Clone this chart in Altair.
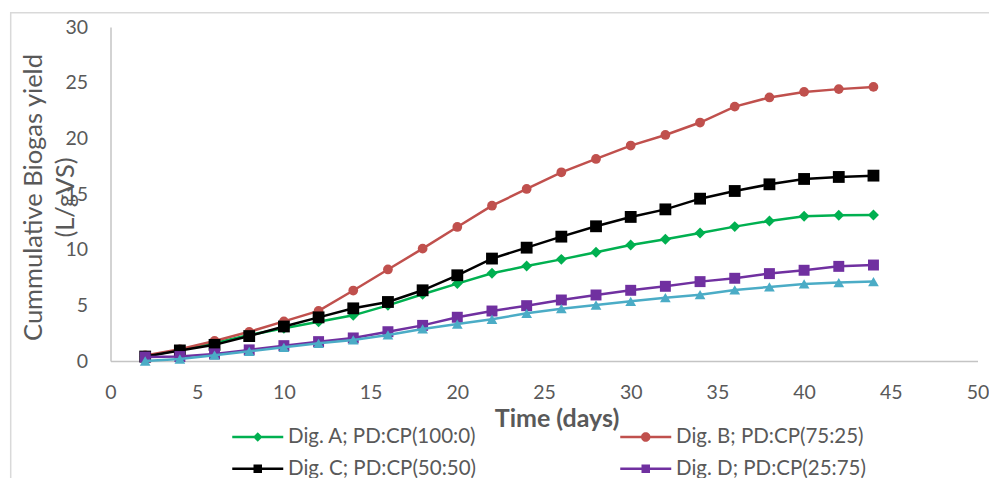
import altair as alt
import pandas as pd

days = [2, 4, 6, 8, 10, 12, 14, 16, 18, 20, 22, 24, 26, 28, 30, 32, 34, 36, 38, 40, 42, 44]

series_names = [
    "Dig. A; PD:CP(100:0)",
    "Dig. B; PD:CP(75:25)",
    "Dig. C; PD:CP(50:50)",
    "Dig. D; PD:CP(25:75)",
    "Dig. E; PD:CP(0:100)",
]

dig_a = [0.40, 1.00, 1.62, 2.33, 2.95, 3.52, 4.10, 5.00, 6.00, 6.95, 7.88, 8.53,
         9.13, 9.76, 10.42, 10.93, 11.50, 12.07, 12.58, 13.00, 13.09, 13.12]
dig_b = [0.50, 1.05, 1.80, 2.62, 3.56, 4.50, 6.33, 8.22, 10.09, 12.04, 13.95, 15.45,
         16.95, 18.15, 19.35, 20.30, 21.42, 22.85, 23.67, 24.17, 24.42, 24.62]
dig_c = [0.40, 0.95, 1.45, 2.24, 3.10, 3.92, 4.73, 5.30, 6.35, 7.70, 9.20, 10.18,
         11.17, 12.10, 12.94, 13.62, 14.58, 15.27, 15.87, 16.35, 16.53, 16.65]
dig_d = [0.35, 0.40, 0.64, 1.00, 1.38, 1.74, 2.07, 2.63, 3.20, 3.93, 4.49, 4.97,
         5.48, 5.93, 6.35, 6.71, 7.13, 7.43, 7.85, 8.15, 8.50, 8.62]
dig_e = [0.00, 0.18, 0.52, 0.87, 1.23, 1.59, 1.89, 2.34, 2.88, 3.32, 3.75, 4.28,
         4.70, 5.03, 5.36, 5.69, 5.96, 6.38, 6.65, 6.92, 7.04, 7.13]

colors = ["#00B050", "#C0504D", "#000000", "#7030A0", "#4BACC6"]
shapes = ["diamond", "circle", "square", "square", "triangle-up"]
sizes = [120, 95, 140, 120, 115]

# legend symbols: line segment + marker (custom paths, unit = sqrt(size)/2)
bar = "M-5.1,-0.25 L5.1,-0.25 L5.1,0.25 L-5.1,0.25 Z "
legend_paths = [
    bar + "M0,-0.95 L0.95,0 L0,0.95 L-0.95,0 Z",
    bar + "M-0.95,0 A0.95,0.95 0 1,1 0.95,0 A0.95,0.95 0 1,1 -0.95,0 Z",
    bar + "M-0.85,-0.85 L0.85,-0.85 L0.85,0.85 L-0.85,0.85 Z",
    bar + "M-0.85,-0.85 L0.85,-0.85 L0.85,0.85 L-0.85,0.85 Z",
    bar + "M0,-0.95 L0.95,0.75 L-0.95,0.75 Z",
]

all_values = [dig_a, dig_b, dig_c, dig_d, dig_e]
rows = []
for name, vals in zip(series_names, all_values):
    for t, v in zip(days, vals):
        rows.append({"t": t, "y": v, "series": name})
df = pd.DataFrame(rows)

FONT = "Lato"
GREY = "#595959"

legend = alt.Legend(
    title=None, orient="none", legendX=116.5, legendY=399.5, columns=2,
    direction="horizontal",
    columnPadding=138, rowPadding=11, symbolSize=100, symbolOffset=20.5,
    labelOffset=20, labelFont=FONT, labelFontSize=20.5, labelColor=GREY,
    symbolStrokeWidth=0, values=series_names[:4], padding=0, labelLimit=400,
)

x_enc = alt.X(
    "t:Q",
    scale=alt.Scale(domain=[0, 50], nice=False),
    axis=alt.Axis(
        values=list(range(0, 51, 5)), ticks=False, tickSize=0, grid=False,
        domainColor="#C4C4C4", domainWidth=1.5, labelFont=FONT, labelFontSize=19.5,
        labelColor=GREY, labelPadding=22, labelFlush=False, labelOverlap=False,
        title="Time (days)", titleFont=FONT, titleFontSize=25, titleFontWeight="bold",
        titleColor=GREY, titleY=57.5, titleBaseline="middle", titleX=446,
    ),
)
y_enc = alt.Y(
    "y:Q",
    scale=alt.Scale(domain=[0, 30], nice=False),
    axis=alt.Axis(
        values=list(range(0, 31, 5)), ticks=False, tickSize=0, grid=False,
        domainColor="#C4C4C4", domainWidth=1.5, labelFont=FONT, labelFontSize=19.5,
        labelColor=GREY, labelPadding=23, labelFlush=False, labelOverlap=False,
        title=["Cummulative Biogas yield", "(L/gVS)"], titleFont=FONT,
        titleFontSize=25.5, titleFontWeight="normal", titleColor=GREY,
        titleX=-69, titleY=170, titleAngle=-90, titleAlign="center",
        titleBaseline="alphabetic", titleLineHeight=32,
    ),
)
color_enc = alt.Color(
    "series:N", scale=alt.Scale(domain=series_names, range=colors), legend=legend
)

base = alt.Chart(df)
layers = []
for name, shp, sz in zip(series_names, shapes, sizes):
    sub = base.transform_filter(alt.datum.series == name)
    layers.append(sub.mark_line(strokeWidth=2.5).encode(x=x_enc, y=y_enc, color=color_enc))
    layers.append(
        sub.mark_point(shape=shp, size=sz, filled=True, opacity=1, strokeWidth=0)
        .encode(x=x_enc, y=y_enc, color=color_enc)
    )

legend_layer = base.transform_filter("datum.t < 0").mark_point(
    filled=True, opacity=1
).encode(
    x=x_enc, y=y_enc, color=color_enc,
    shape=alt.Shape("series:N", scale=alt.Scale(domain=series_names, range=legend_paths), legend=legend),
)

frame = alt.Chart(pd.DataFrame({"k": [0]})).mark_rect(
    fill=None, stroke="#D9D9D9", strokeWidth=1.5
).encode(
    x=alt.value(-99.8), x2=alt.value(1000), y=alt.value(-14.3), y2=alt.value(600)
)

chart = alt.layer(frame, *layers, legend_layer).properties(
    width=867, height=334,
    autosize=alt.AutoSizeParams(type="none"),
    padding={"left": 102.5, "top": 19, "right": 11.5, "bottom": 120},
).configure_view(stroke=None)

chart.save("out.html", embed_options={"renderer": "svg", "actions": False})
